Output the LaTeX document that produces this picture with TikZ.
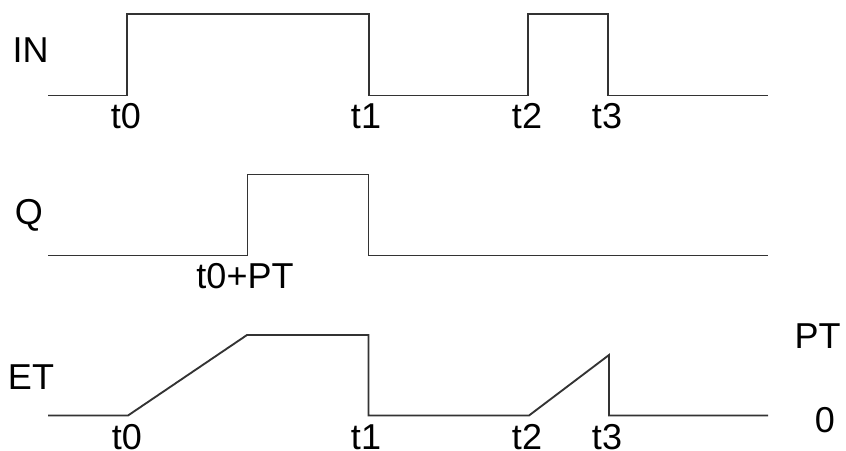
\documentclass[tikz,border=0pt]{standalone}
\usepackage{fontspec}
\setmainfont{Liberation Sans}
\begin{document}
\begin{tikzpicture}[x=0.75pt,y=-0.75pt,
  wave/.style={draw=black!80,line width=1.4pt,line join=miter},
  lbl/.style={anchor=base,inner sep=0pt,font=\fontsize{27}{30}\selectfont,text=black}]
\useasboundingbox (0,0) rectangle (846,450);
% IN
\draw[wave] (48,95.5) -- (127,95.5) -- (127,14) -- (369,14) -- (369,95.5) -- (528,95.5) -- (528,14) -- (608,14) -- (608,95.5) -- (768,95.5);
% Q
\draw[wave] (48,255.5) -- (247.5,255.5) -- (247.5,174.5) -- (368.5,174.5) -- (368.5,255.5) -- (768,255.5);
% ET
\draw[wave] (48,415.5) -- (128,415.5) -- (247,335) -- (368.5,335) -- (368.5,415.5) -- (529,415.5) -- (609,355) -- (609,415.5) -- (768,415.5);
% labels
\node[lbl] (in) at (30.5,62) {IN};
\node[lbl] (q) at (29,224) {Q};
\node[lbl] (et) at (31,389) {ET};
\node[lbl] (pt) at (817.5,348) {PT};
\node[lbl] (zero) at (825,432) {0};
\node[lbl] (a0) at (126,128) {t0};
\node[lbl] (a1) at (366,128) {t1};
\node[lbl] (a2) at (527,128) {t2};
\node[lbl] (a3) at (607,128) {t3};
\node[lbl] (qpt) at (245,288) {t0+PT};
\node[lbl] (e0) at (127,449) {t0};
\node[lbl] (e1) at (366,449) {t1};
\node[lbl] (e2) at (527,449) {t2};
\node[lbl] (e3) at (607,449) {t3};
\end{tikzpicture}
\end{document}
